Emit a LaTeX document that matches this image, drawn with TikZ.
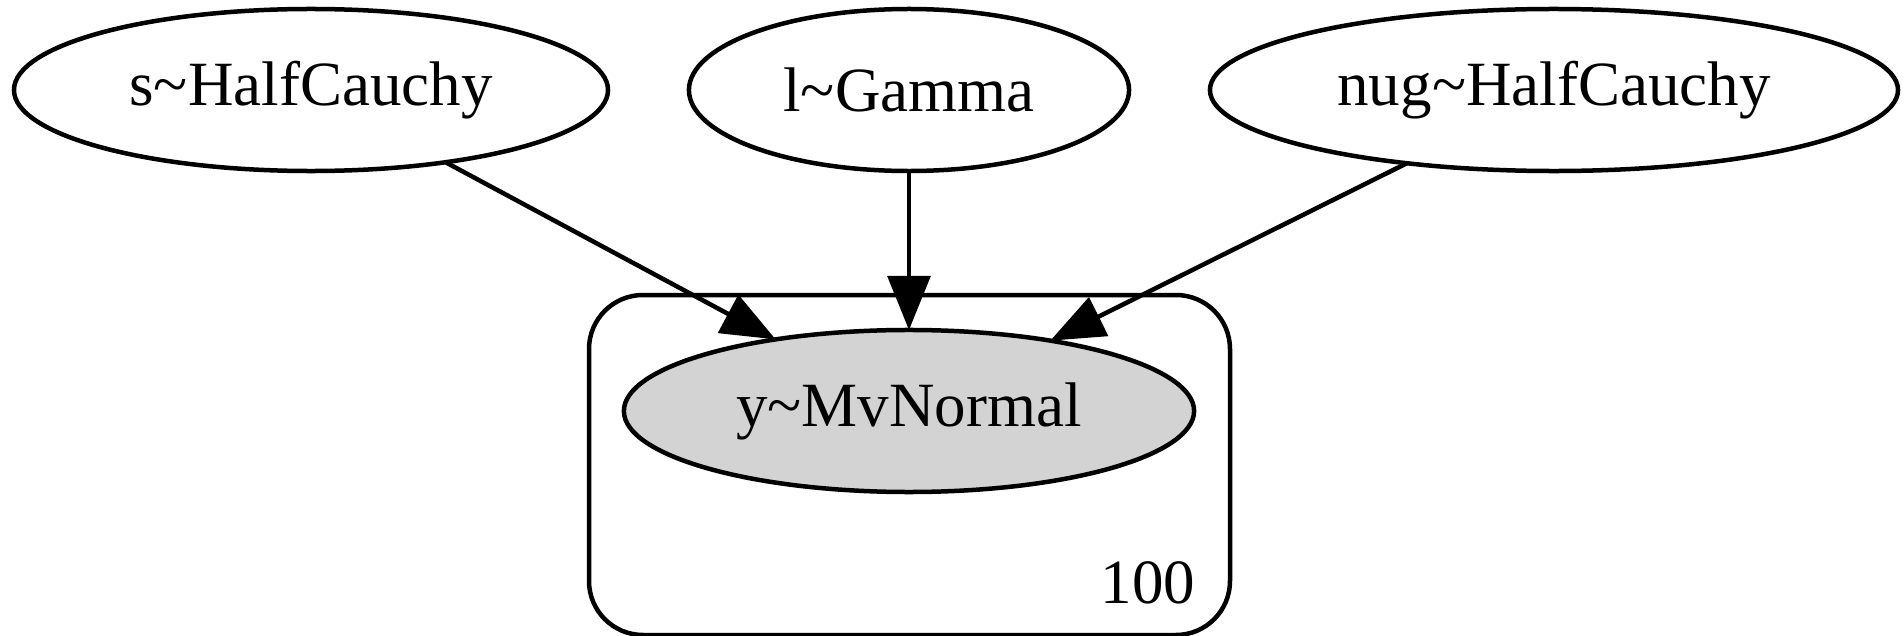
\documentclass[tikz,border=0pt]{standalone}
\usepackage{fontspec}
\setmainfont{Liberation Serif}
\usetikzlibrary{shapes.geometric,arrows.meta}
\definecolor{obsgrey}{HTML}{D3D3D3}
\tikzset{
  rv/.style={ellipse, draw=black, line width=1pt, inner sep=0pt, outer sep=0pt,
    minimum height=36pt, font=\fontsize{14pt}{16pt}\selectfont},
  observed/.style={rv, fill=obsgrey},
  plate/.style={draw=black, line width=1pt, rounded corners=12pt},
  dep/.style={draw=black, line width=1pt,
    -{Triangle[length=12pt,width=9.5pt,line width=0.8pt]}},
  platelabel/.style={font=\fontsize{14pt}{16pt}\selectfont, inner sep=0pt}
}
\begin{document}
\begin{tikzpicture}[x=0.2222pt, y=-0.2222pt]
  \useasboundingbox (0,0) rectangle (1904,636);

  % plate for the 100 observations
  \draw[plate] (589,295) rectangle (1230,635);
  \node[platelabel] (n100) at (1148,583) {100};

  % free random variables
  \node[rv, minimum width=132pt] (s) at (311,90) {s\textasciitilde HalfCauchy};
  \node[rv, minimum width=97.8pt] (l) at (909,90) {l\textasciitilde Gamma};
  \node[rv, minimum width=152.9pt] (nug) at (1554,90) {nug\textasciitilde HalfCauchy};

  % observed variable
  \node[observed, minimum width=126.7pt] (y) at (909,411) {y\textasciitilde MvNormal};

  % dependencies
  \draw[dep] (s) -- (y);
  \draw[dep] (l) -- (y);
  \draw[dep] (nug) -- (y);
\end{tikzpicture}
\end{document}
